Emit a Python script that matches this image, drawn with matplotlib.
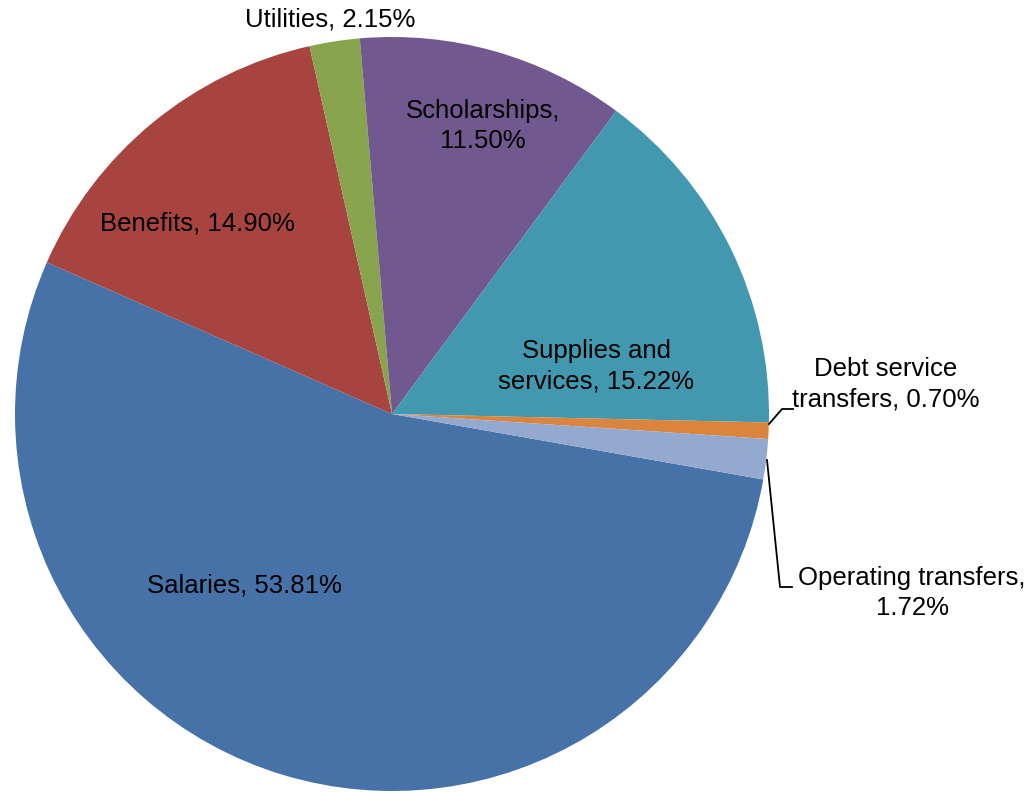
import matplotlib.pyplot as plt

plt.rcParams['font.family'] = ['Liberation Sans', 'DejaVu Sans']

categories = ["Salaries", "Benefits", "Utilities", "Scholarships",
              "Supplies and\nservices", "Debt service\ntransfers", "Operating transfers"]
shares = [53.81, 14.90, 2.15, 11.50, 15.22, 0.70, 1.72]
colors = ["#4672A8", "#A8443F", "#89A44F", "#71588F", "#4298AF", "#DB843D", "#93A9D0"]
# which labels break the line after the comma
break_after_comma = [False, False, False, True, False, False, True]

# label centres in pixel space (x from left, y from top)
label_pos = [(244, 586), (197, 224), (330, 20), (483, 126),
             (596, 366), (886, 384), (912, 593)]

W, H = 1036, 793
cx, cy, r = 392, 414, 377

fig = plt.figure(figsize=(W / 100, H / 100), dpi=100)
ax = fig.add_axes([0, 0, 1, 1])
ax.pie(shares, colors=colors, startangle=-10, counterclock=False,
       center=(cx, H - cy), radius=r, frame=True,
       wedgeprops=dict(linewidth=0))
ax.set_xlim(0, W)
ax.set_ylim(0, H)
ax.set_aspect('auto')
ax.axis('off')

for name, val, brk, (x, y) in zip(categories, shares, break_after_comma, label_pos):
    sep = ",\n" if brk else ", "
    ax.text(x, H - y, f"{name}{sep}{val:.2f}%", ha='center', va='center',
            fontsize=18.5, linespacing=1.35, color='black')

# leader lines for the two thin slices
ax.plot([769, 782, 793], [H - 424, H - 409, H - 409], color='black', lw=1.3)
ax.plot([767, 780, 792], [H - 460, H - 587, H - 587], color='black', lw=1.3)

fig.savefig("out.png", dpi=100)
